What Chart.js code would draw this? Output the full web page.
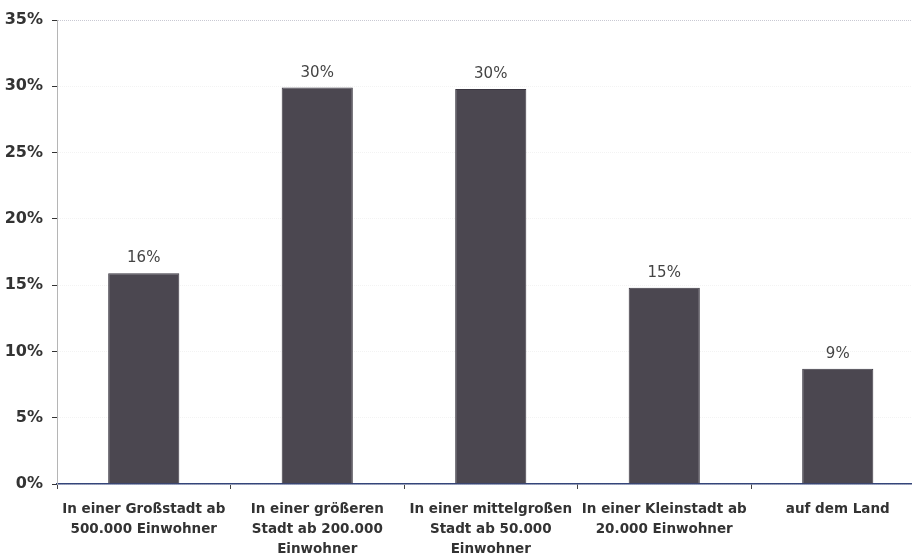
<!DOCTYPE html>
<html>
<head>
<meta charset="utf-8">
<script src="https://cdn.jsdelivr.net/npm/chart.js@4"></script>
<style>
  html, body { margin: 0; padding: 0; background: #fff; overflow: hidden; }
  #wrap { width: 930px; height: 556px; }
</style>
</head>
<body>
<div id="wrap"><canvas id="chart" width="930" height="556"></canvas></div>
<script>
// Data
const categories = [
  ["In einer Großstadt ab", "500.000 Einwohner"],
  ["In einer größeren", "Stadt ab 200.000", "Einwohner"],
  ["In einer mittelgroßen", "Stadt ab 50.000", "Einwohner"],
  ["In einer Kleinstadt ab", "20.000 Einwohner"],
  ["auf dem Land"]
]
const shares = [15.9, 29.9, 29.8, 14.8, 8.7]
const shareLabels = ["16%", "30%", "30%", "15%", "9%"]
const yTicks = [0, 5, 10, 15, 20, 25, 30, 35]

// value labels above bars
const valueLabels = {
  id: "valueLabels",
  afterDatasetsDraw(chart) {
    const c = chart.ctx
    const meta = chart.getDatasetMeta(0)
    c.save()
    c.font = "15px 'DejaVu Sans'"
    c.fillStyle = "#444"
    c.textAlign = "center"
    c.textBaseline = "middle"
    meta.data.forEach((bar, i) => {
      c.fillText(shareLabels[i], bar.x, bar.y - 15)
    })
    c.restore()
  },
}

new Chart(document.getElementById("chart"), {
  type: "bar",
  data: {
    labels: categories,
    datasets: [
      {
        data: shares,
        backgroundColor: "#4b4750",
        borderColor: "#3a3640",
        borderWidth: 1,
        categoryPercentage: 1,
        barPercentage: 0.41,
      },
    ],
  },
  options: {
    responsive: false,
    animation: false,
    layout: { padding: { top: 20, right: 5.5, left: 0, bottom: 0 } },
    plugins: {
      legend: { display: false },
      tooltip: { enabled: false },
    },
    scales: {
      x: {
        grid: {
          drawOnChartArea: false,
          tickLength: 5,
          tickColor: "#444",
        },
        border: { color: "#34457a", width: 1.5 },
        ticks: {
          color: "#333",
          font: { family: "'DejaVu Sans'", size: 13.5, weight: "bold", lineHeight: 1.48 },
          padding: 11,
          maxRotation: 0,
          autoSkip: false,
        },
        afterFit(scale) {
          scale.height = 72
        },
      },
      y: {
        min: 0,
        max: 35,
        afterBuildTicks(scale) {
          scale.ticks = yTicks.map((v) => ({ value: v }))
        },
        grid: {
          color: (ctx) => (ctx.tick && ctx.tick.value === 35 ? "#c9c9d3" : "#f3f3f3"),
          tickLength: 5,
          tickColor: "#333",
        },
        border: { color: "#b5b5b5", dash: [1, 1] },
        ticks: {
          color: "#333",
          font: { family: "'DejaVu Sans'", size: 16, weight: "bold" },
          padding: 9,
          callback: (v) => v + "%",
        },
        afterFit(scale) {
          scale.width = 57
        },
      },
    },
  },
  plugins: [valueLabels],
})
</script>
</body>
</html>
